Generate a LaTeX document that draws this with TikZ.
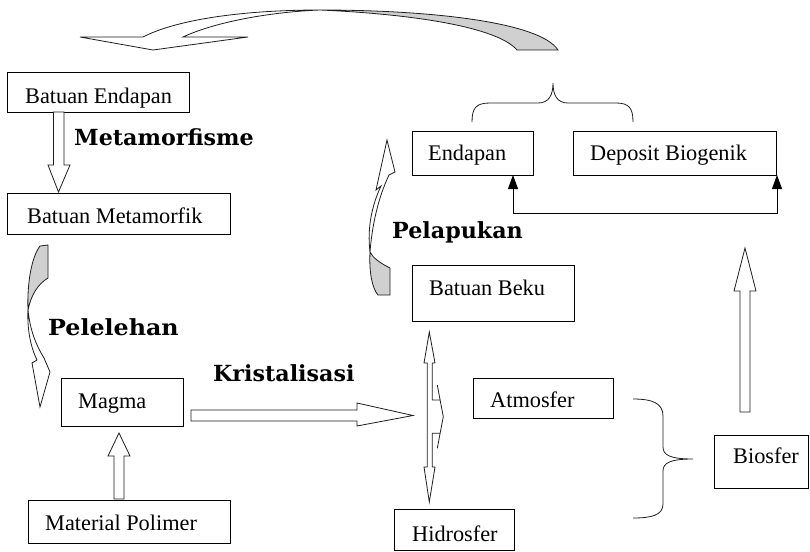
\documentclass[tikz,border=0pt]{standalone}
\usepackage{fontspec}
\setmainfont{Liberation Serif}
\newfontfamily\stagefont{DejaVu Serif}
\usetikzlibrary{arrows.meta}
\definecolor{bandgray}{RGB}{208,208,208}
\definecolor{edge}{RGB}{30,30,30}
\tikzset{
  box/.style={draw=black, line width=0.8pt, fill=white, inner sep=0pt, outer sep=0pt},
  lbl/.style={inner sep=0pt, anchor=base west, font=\fontsize{22.3}{26}\selectfont},
  stage/.style={inner sep=0pt, anchor=base west, font=\stagefont\bfseries\fontsize{22.2}{26}\selectfont},
  blockarrow/.style={draw=edge, line width=0.8pt, fill=white, line join=miter},
  backface/.style={draw=edge, line width=0.8pt, fill=bandgray},
  brace/.style={draw=edge, line width=0.8pt},
  link/.style={draw=black, line width=0.8pt, {Triangle[length=14pt,width=10pt]}-{Triangle[length=14pt,width=10pt]}}
}
\begin{document}
\begin{tikzpicture}[x=1pt,y=-1pt]
\useasboundingbox (0,0) rectangle (810,551);

% ---- boxes ----
\node[box, minimum width=182, minimum height=40] (be)  at (98,92) {};
\node[box, minimum width=223, minimum height=41] (bm)  at (118.5,213.5) {};
\node[box, minimum width=122, minimum height=48] (mg)  at (122,402) {};
\node[box, minimum width=202, minimum height=43] (mp)  at (129,521.5) {};
\node[box, minimum width=162, minimum height=56] (bb)  at (493,293) {};
\node[box, minimum width=140, minimum height=40] (at)  at (543,398) {};
\node[box, minimum width=94,  minimum height=53] (bio) at (761,461.5) {};
\node[box, minimum width=120, minimum height=41] (hid) at (454,529.5) {};
\node[box, minimum width=121, minimum height=44] (en)  at (472.5,153) {};
\node[box, minimum width=203, minimum height=44] (dep) at (674.5,153) {};

% ---- box texts ----
\node[lbl] (tbe)  at (25,103)    {Batuan Endapan};
\node[lbl] (tbm)  at (27,223.3)  {Batuan Metamorfik};
\node[lbl] (tmg)  at (78,408)    {Magma};
\node[lbl] (tmp)  at (45,530)    {Material Polimer};
\node[lbl] (tbb)  at (429,295)   {Batuan Beku};
\node[lbl] (tat)  at (490,407.7) {Atmosfer};
\node[lbl] (tbio) at (733,463)   {Biosfer};
\node[lbl] (thid) at (412,541.7) {Hidrosfer};
\node[lbl] (ten)  at (428,160.7) {Endapan};
\node[lbl] (tdep) at (590,160.7) {Deposit Biogenik};

% ---- process names ----
\node[stage] (smeta) at (74,145)    {Metamorfisme};
\node[stage] (smelt) at (48,335)    {\scalebox{1.07}[1]{Pelelehan}};
\node[stage] (sweat) at (392,238)   {Pelapukan};
\node[stage] (scrys) at (213,381.7) {Kristalisasi};

% ---- straight block arrows ----
% Batuan Endapan -> Batuan Metamorfik
\draw[blockarrow] (53.5,112) -- (53.5,165) -- (48,165) -- (58.5,192) -- (70,165) -- (64,165) -- (64,112) -- cycle;
% Material Polimer -> Magma
\draw[blockarrow] (114,499) -- (114,456) -- (108,456) -- (119,433) -- (130,456) -- (124,456) -- (124,499) -- cycle;
% Magma -> spheres
\draw[blockarrow] (191,410) -- (357,410) -- (357,403) -- (413,415.5) -- (357,426) -- (357,421) -- (191,421) -- cycle;
% Biosfer -> deposits
\draw[blockarrow] (740,412) -- (740,291) -- (734,291) -- (745,248) -- (756,291) -- (750,291) -- (750,412) -- cycle;
% vertical double arrow between Batuan Beku and Hidrosfer
\draw[blockarrow] (429.3,332) -- (435,363) -- (432.3,363) -- (432.3,400) -- (440.1,400)
  -- (443.3,416.7) -- (440.1,433.3) -- (432.3,433.3) -- (432.3,467) -- (435,467)
  -- (429.3,502) -- (424,467) -- (427.3,467) -- (427.3,363) -- (424,363) -- cycle;
\draw[brace] (437.3,385) -- (440.1,400) (440.1,433.3) -- (437.3,448.3);

% ---- curved arrows ----
% Pelelehan (down, left side)
\draw[backface] (40,246) -- (48,245) -- (48,278) .. controls (38,284) and (31,295) .. (28,310)
  .. controls (27,285) and (31,258) .. (40,246) -- cycle;
\draw[blockarrow] (28,310) .. controls (27,330) and (31,348) .. (37,360) -- (32,363) -- (40,407)
  -- (50,372) -- (44,358) .. controls (36,345) and (30,330) .. (28,310) -- cycle;
% Pelapukan (up, centre)
\draw[blockarrow] (370,252) .. controls (367,228) and (372,205) .. (381,186) -- (376,190) -- (387,140)
  -- (395,172) -- (389,175) .. controls (378,198) and (372,226) .. (370,252) -- cycle;
\draw[backface] (370,252) .. controls (369,272) and (372,288) .. (378,295) -- (390,295) -- (390,268)
  .. controls (380,263) and (373,258) .. (370,252) -- cycle;
% large arc over the top
\draw[backface] (320,10) .. controls (430,10) and (540,22) .. (558,50) -- (517,50)
  .. controls (500,30) and (430,15) .. (320,10) -- cycle;
\draw[blockarrow] (320,10) .. controls (250,10) and (180,18) .. (143,37) -- (80,37) -- (153,50)
  -- (248,37) -- (183,37) .. controls (215,22) and (270,12) .. (320,10) -- cycle;

% ---- braces ----
\draw[brace] (472,122) .. controls (472,108) and (476,103) .. (490,103) -- (538,103)
  .. controls (549,103) and (553,95) .. (553,83) .. controls (553,95) and (557,103) .. (568,103)
  -- (616,103) .. controls (629,103) and (633,108) .. (633,122);
\draw[brace] (633,399) .. controls (652,399) and (663,403) .. (663,416) -- (663,447)
  .. controls (663,455) and (670,459) .. (693,459) .. controls (670,459) and (663,463) .. (663,471)
  -- (663,504) .. controls (663,515) and (652,518) .. (633,518);

% ---- link between the deposits ----
\coordinate (jn) at (600,213);
\draw[link] ([xshift=-20pt]en.south east) -- ([xshift=-20pt]en.south east |- jn)
  -- ([xshift=1pt]dep.south east |- jn) -- ([xshift=1pt]dep.south east);
\end{tikzpicture}
\end{document}
